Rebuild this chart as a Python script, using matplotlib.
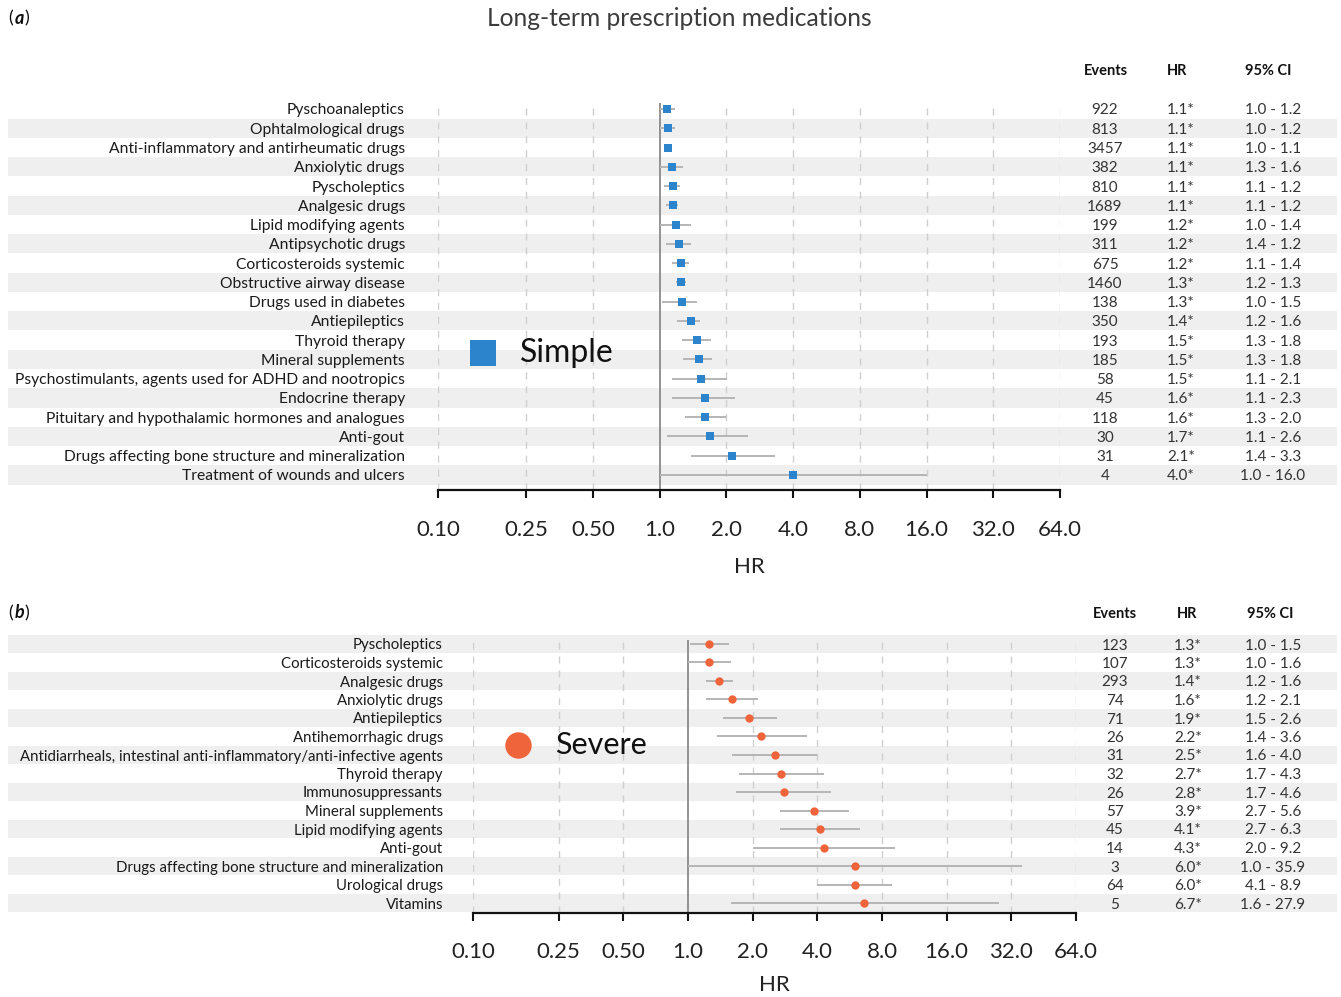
import matplotlib
matplotlib.use("Agg")
import matplotlib.pyplot as plt
from matplotlib.transforms import blended_transform_factory
from matplotlib.patches import Rectangle
from matplotlib.lines import Line2D

plt.rcParams['font.family'] = ['Lato', 'DejaVu Sans']

W, H = 1341, 997

# ---------------- data: panel (a) ----------------
labels_a = ["Pyschoanaleptics", "Ophtalmological drugs", "Anti-inflammatory and antirheumatic drugs",
            "Anxiolytic drugs", "Pyscholeptics", "Analgesic drugs", "Lipid modifying agents",
            "Antipsychotic drugs", "Corticosteroids systemic", "Obstructive airway disease",
            "Drugs used in diabetes", "Antiepileptics", "Thyroid therapy", "Mineral supplements",
            "Psychostimulants, agents used for ADHD and nootropics", "Endocrine therapy",
            "Pituitary and hypothalamic hormones and analogues", "Anti-gout",
            "Drugs affecting bone structure and mineralization", "Treatment of wounds and ulcers"]
hr_a = [1.08, 1.09, 1.09, 1.14, 1.15, 1.15, 1.19, 1.22, 1.25, 1.25,
        1.26, 1.38, 1.48, 1.51, 1.54, 1.60, 1.61, 1.68, 2.12, 4.0]
lo_a = [1.0, 1.0, 1.05, 1.0, 1.05, 1.07, 1.0, 1.07, 1.14, 1.18,
        1.02, 1.2, 1.26, 1.28, 1.14, 1.14, 1.3, 1.08, 1.38, 1.0]
hi_a = [1.17, 1.17, 1.12, 1.27, 1.24, 1.21, 1.39, 1.39, 1.36, 1.32,
        1.48, 1.52, 1.71, 1.73, 2.01, 2.18, 2.0, 2.5, 3.3, 16.0]
events_a = ["922", "813", "3457", "382", "810", "1689", "199", "311", "675", "1460",
            "138", "350", "193", "185", "58", "45", "118", "30", "31", "4"]
hrtxt_a = ["1.1*", "1.1*", "1.1*", "1.1*", "1.1*", "1.1*", "1.2*", "1.2*", "1.2*", "1.3*",
           "1.3*", "1.4*", "1.5*", "1.5*", "1.5*", "1.6*", "1.6*", "1.7*", "2.1*", "4.0*"]
ci_a = ["1.0 - 1.2", "1.0 - 1.2", "1.0 - 1.1", "1.3 - 1.6", "1.1 - 1.2", "1.1 - 1.2",
        "1.0 - 1.4", "1.4 - 1.2", "1.1 - 1.4", "1.2 - 1.3", "1.0 - 1.5", "1.2 - 1.6",
        "1.3 - 1.8", "1.3 - 1.8", "1.1 - 2.1", "1.1 - 2.3", "1.3 - 2.0", "1.1 - 2.6",
        "1.4 - 3.3", "1.0 - 16.0"]

# ---------------- data: panel (b) ----------------
labels_b = ["Pyscholeptics", "Corticosteroids systemic", "Analgesic drugs", "Anxiolytic drugs",
            "Antiepileptics", "Antihemorrhagic drugs",
            "Antidiarrheals, intestinal anti-inflammatory/anti-infective agents",
            "Thyroid therapy", "Immunosuppressants", "Mineral supplements",
            "Lipid modifying agents", "Anti-gout", "Drugs affecting bone structure and mineralization",
            "Urological drugs", "Vitamins"]
hr_b = [1.26, 1.26, 1.40, 1.60, 1.93, 2.2, 2.54, 2.70, 2.79, 3.86, 4.12, 4.29, 5.99, 6.0, 6.63]
lo_b = [1.02, 1.0, 1.22, 1.22, 1.45, 1.36, 1.61, 1.73, 1.68, 2.67, 2.69, 2.01, 1.0, 4.0, 1.59]
hi_b = [1.55, 1.59, 1.62, 2.11, 2.59, 3.6, 4.0, 4.29, 4.63, 5.6, 6.32, 9.18, 35.9, 8.9, 27.9]
events_b = ["123", "107", "293", "74", "71", "26", "31", "32", "26", "57", "45", "14", "3", "64", "5"]
hrtxt_b = ["1.3*", "1.3*", "1.4*", "1.6*", "1.9*", "2.2*", "2.5*", "2.7*", "2.8*", "3.9*",
           "4.1*", "4.3*", "6.0*", "6.0*", "6.7*"]
ci_b = ["1.0 - 1.5", "1.0 - 1.6", "1.2 - 1.6", "1.2 - 2.1", "1.5 - 2.6", "1.4 - 3.6",
        "1.6 - 4.0", "1.7 - 4.3", "1.7 - 4.6", "2.7 - 5.6", "2.7 - 6.3", "2.0 - 9.2",
        "1.0 - 35.9", "4.1 - 8.9", "1.6 - 27.9"]

xticks = [0.10, 0.25, 0.50, 1.0, 2.0, 4.0, 8.0, 16.0, 32.0, 64.0]
xticklabels = ["0.10", "0.25", "0.50", "1.0", "2.0", "4.0", "8.0", "16.0", "32.0", "64.0"]

BLUE = "#2b84cc"
ORANGE = "#f0643c"
STRIPE = "#efefef"
CI_COL = "#b5b5b5"
GRID_COL = "#cfcfcf"
TXT = "#1a1a1a"

fig = plt.figure(figsize=(W / 100, H / 100), dpi=100)


def fx(px):
    return px / W


def fy(py):
    return 1 - py / H


def panel(left, right, top, bottom, row0, dy, n, labels, hr, lo, hi, events, hrtxt, ci,
          label_right, label_fs, col_ev, col_hr, col_ci, hdr_y, hdr_x, stripe_odd, marker,
          color, msize, leg_xy, leg_text, leg_tx, leg_fs, panel_tag, tag_y, ms_leg,
          tick_pad, label_pad):
    ax = fig.add_axes([fx(left), fy(bottom), fx(right - left), (bottom - top) / H])
    ax.set_facecolor("none")
    ax.set_xscale("log", base=2)
    ax.set_xlim(0.1, 64)
    ytop = (top - row0) / dy
    ybot = (bottom - row0) / dy
    ax.set_ylim(ybot, ytop)
    for s in ["top", "left", "right"]:
        ax.spines[s].set_visible(False)
    ax.spines["bottom"].set_linewidth(1.6)
    ax.spines["bottom"].set_color("#111111")
    ax.set_yticks([])
    ax.set_xticks(xticks)
    ax.set_xticklabels(xticklabels, fontsize=16, color="#222222")
    ax.minorticks_off()
    ax.tick_params(axis="x", direction="out", length=6, width=1.5, color="#111111",
                   pad=tick_pad)
    ax.set_xlabel("HR", fontsize=16, color="#222222", labelpad=label_pad)

    trans = blended_transform_factory(fig.transFigure, ax.transData)
    # stripes
    for i in range(n):
        if (i % 2 == 1) == stripe_odd:
            ax.add_patch(Rectangle((fx(8), i - 0.5), fx(1337) - fx(8), 1.0, transform=trans,
                                   facecolor=STRIPE, edgecolor="none", clip_on=False, zorder=0))
    # grid lines
    for t in xticks:
        if t == 1.0:
            continue
        ax.axvline(t, color=GRID_COL, lw=1.0, dashes=(5, 5), zorder=1)
    ax.axvline(1.0, color="#8a8a8a", lw=1.3, zorder=2)

    ys = list(range(n))
    ax.hlines(ys, lo, hi, color=CI_COL, lw=1.4, zorder=3)
    ax.plot(hr, ys, linestyle="none", marker=marker, color=color, markersize=msize,
            markeredgewidth=0, zorder=4)

    off = 1.5 / dy
    for i in range(n):
        ax.text(fx(label_right), i + off, labels[i], transform=trans, ha="right", va="center",
                fontsize=label_fs, color=TXT)
        ax.text(fx(col_ev), i + off, events[i], transform=trans, ha="center", va="center",
                fontsize=11, color="#333333")
        ax.text(fx(col_hr), i + off, hrtxt[i], transform=trans, ha="center", va="center",
                fontsize=11, color="#333333")
        ax.text(fx(col_ci), i + off, ci[i], transform=trans, ha="center", va="center",
                fontsize=11, color="#333333")
    for x, t in zip(hdr_x, ["Events", "HR", "95% CI"]):
        fig.text(fx(x), fy(hdr_y), t, ha="center", va="center", fontsize=10.5,
                 fontweight="bold", color="#111111")

    # legend
    fig.add_artist(Line2D([fx(leg_xy[0])], [fy(leg_xy[1])], marker=marker, color=color,
                          markersize=ms_leg, markeredgewidth=0, linestyle="none"))
    fig.text(fx(leg_tx), fy(leg_xy[1]), leg_text, ha="left", va="center", fontsize=leg_fs,
             color="#111111")
    # panel tag "(x)" with bold-italic letter
    fig.text(fx(8), fy(tag_y), "(", ha="left", va="center", fontsize=13, color="#111111")
    fig.text(fx(14.5), fy(tag_y), panel_tag, ha="left", va="center", fontsize=13,
             color="#111111", fontweight="bold", fontstyle="italic")
    fig.text(fx(24), fy(tag_y), ")", ha="left", va="center", fontsize=13, color="#111111")
    return ax


# Panel (a)
panel(438, 1060, 103, 490, 109, 19.26, len(labels_a), labels_a, hr_a, lo_a, hi_a,
      events_a, hrtxt_a, ci_a, 405, 11.25, 1105, 1181, 1273, 71, [1106, 1177, 1268],
      True, "s", BLUE, 6.2, (483, 353), "Simple", 520, 23, "a", 18, 19, 15.5, 12.5)

# Panel (b)
panel(473, 1076, 640, 913, 644, 18.5, len(labels_b), labels_b, hr_b, lo_b, hi_b,
      events_b, hrtxt_b, ci_b, 443, 10.8, 1115, 1188, 1273, 614, [1115, 1187, 1270],
      False, "o", ORANGE, 6, (518, 745), "Severe", 555, 22, "b", 613, 19, 15, 9.5)

fig.text(fx(679), fy(18), "Long-term prescription medications", ha="center", va="center",
         fontsize=17.7, color="#3c3c3c")

fig.savefig("out.png", dpi=100)
